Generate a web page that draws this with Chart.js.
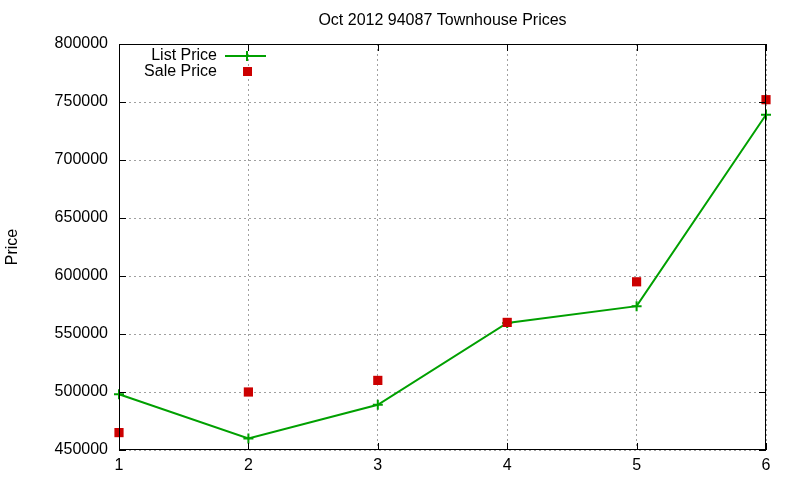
<!DOCTYPE html>
<html>
<head>
<meta charset="utf-8">
<script src="https://cdn.jsdelivr.net/npm/chart.js@4"></script>
<style>
  html, body { margin: 0; padding: 0; background: #fff; }
  #wrap { width: 800px; height: 480px; }
</style>
</head>
<body>
<div id="wrap"><canvas id="chart" width="800" height="480"></canvas></div>
<script>
// data
const months = [1, 2, 3, 4, 5, 6];
const listPrice = [498000, 460000, 489000, 559500, 574000, 739000];
const salePrice = [465000, 500000, 510000, 560000, 595000, 752000];
const yTicks = [450000, 500000, 550000, 600000, 650000, 700000, 750000, 800000];

const FONT = '"Liberation Sans", Arial, sans-serif';

// gnuplot look: border, inward ticks on all sides, title, y label, legend
const gnuplotFrame = {
    id: 'gnuplotFrame',
    afterDraw(chart) {
        const ctx = chart.ctx;
        const a = chart.chartArea;
        const xs = chart.scales.x;
        const ys = chart.scales.y;
        ctx.save();
        ctx.strokeStyle = '#000';
        ctx.lineWidth = 1;
        ctx.strokeRect(a.left + 0.5, a.top + 0.5, a.right - a.left - 1, a.bottom - a.top - 1);
        ctx.beginPath();
        yTicks.forEach(v => {
            const y = Math.round(ys.getPixelForValue(v)) + 0.5;
            ctx.moveTo(a.left, y); ctx.lineTo(a.left + 7, y);
            ctx.moveTo(a.right, y); ctx.lineTo(a.right - 7, y);
        });
        months.forEach(m => {
            const x = Math.round(xs.getPixelForValue(m)) + 0.5;
            ctx.moveTo(x, a.bottom); ctx.lineTo(x, a.bottom - 7);
            ctx.moveTo(x, a.top); ctx.lineTo(x, a.top + 7);
        });
        ctx.stroke();

        // title
        ctx.fillStyle = '#000';
        ctx.font = '16px ' + FONT;
        ctx.textAlign = 'center';
        ctx.textBaseline = 'middle';
        ctx.fillText('Oct 2012 94087 Townhouse Prices', (a.left + a.right) / 2, 21);

        // y axis label
        ctx.save();
        ctx.translate(13, (a.top + a.bottom) / 2);
        ctx.rotate(-Math.PI / 2);
        ctx.fillText('Price', 0, 0);
        ctx.restore();

        // legend
        ctx.textAlign = 'right';
        ctx.fillText('List Price', 217, 56);
        ctx.fillText('Sale Price', 217, 72);
        ctx.strokeStyle = '#00a000';
        ctx.lineWidth = 2;
        ctx.beginPath();
        ctx.moveTo(225, 56); ctx.lineTo(266, 56);
        ctx.moveTo(247, 51); ctx.lineTo(247, 61);
        ctx.stroke();
        ctx.fillStyle = '#cc0000';
        ctx.fillRect(243, 67, 9, 9);
        ctx.restore();
    }
};

new Chart(document.getElementById('chart'), {
    type: 'line',
    data: {
        datasets: [
            {
                label: 'List Price',
                data: months.map((m, i) => ({ x: m, y: listPrice[i] })),
                borderColor: '#00a000',
                backgroundColor: '#00a000',
                borderWidth: 2,
                pointStyle: 'cross',
                pointRadius: 5,
                pointBorderWidth: 2,
                tension: 0,
                clip: false,
                order: 2
            },
            {
                label: 'Sale Price',
                data: months.map((m, i) => ({ x: m, y: salePrice[i] })),
                showLine: false,
                borderColor: '#cc0000',
                backgroundColor: '#cc0000',
                pointStyle: 'rect',
                pointRadius: 6.5,
                pointBorderWidth: 0,
                clip: false,
                order: 1
            }
        ]
    },
    options: {
        responsive: false,
        animation: false,
        layout: { padding: { top: 44, right: 34, left: 0, bottom: 0 } },
        plugins: {
            legend: { display: false },
            tooltip: { enabled: false },
            title: { display: false }
        },
        scales: {
            x: {
                type: 'linear',
                min: 1,
                max: 6,
                afterFit(scale) { scale.height = 30; },
                grid: {
                    color: '#a0a0a0',
                    drawTicks: false,
                    lineWidth: 1
                },
                border: { display: false, dash: [2, 3] },
                ticks: {
                    stepSize: 1,
                    padding: 6,
                    color: '#000',
                    font: { family: FONT, size: 16 },
                    callback: v => String(v)
                }
            },
            y: {
                min: 450000,
                max: 800000,
                afterFit(scale) { scale.width = 119; },
                grid: {
                    color: '#a0a0a0',
                    drawTicks: false,
                    lineWidth: 1
                },
                border: { display: false, dash: [2, 3] },
                ticks: {
                    stepSize: 50000,
                    padding: 11,
                    color: '#000',
                    font: { family: FONT, size: 16 },
                    callback: v => String(v)
                }
            }
        }
    },
    plugins: [gnuplotFrame]
});
</script>
</body>
</html>
